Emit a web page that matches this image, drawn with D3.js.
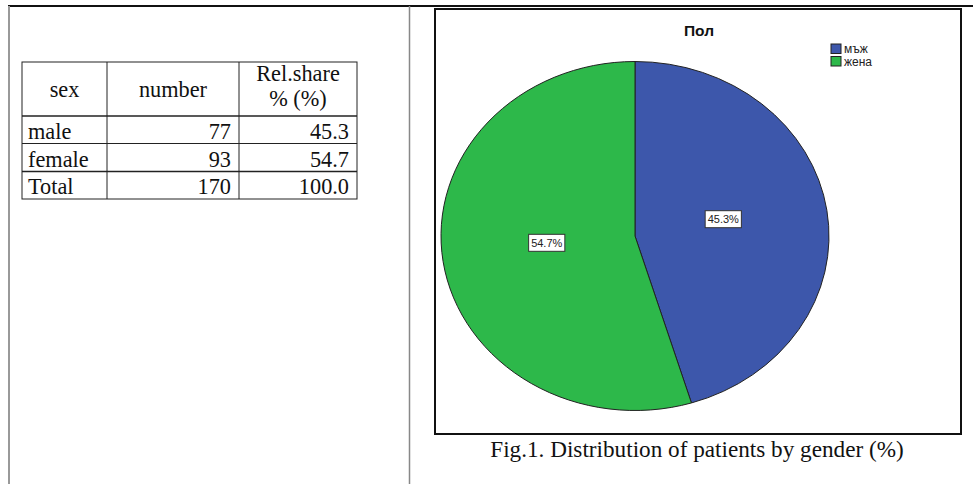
<!DOCTYPE html>
<html>
<head>
<meta charset="utf-8">
<script src="https://cdn.jsdelivr.net/npm/d3@7"></script>
<style>
  html, body { margin: 0; padding: 0; background: #fff; }
  svg { display: block; }
</style>
</head>
<body>
<svg id="page" width="973" height="484"></svg>
<script>
// Table data
const tableHeader = ["sex", "number", "Rel.share|% (%)"];
const sexes = ["male", "female", "Total"];
const counts = [77, 93, 170];
const shares = ["45.3", "54.7", "100.0"];

// Pie data
const chartTitle = "Пол";
const legendLabels = ["мъж", "жена"];
const sliceShares = [45.3, 54.7];
const sliceColors = ["#3d57ab", "#2db84a"];
const caption = "Fig.1. Distribution of patients by gender (%)";

const svg = d3.select("#page");

// Page frame lines
svg.append("line").attr("x1", 8).attr("x2", 973).attr("y1", 6).attr("y2", 6)
  .attr("stroke", "#111").attr("stroke-width", 2);
svg.append("line").attr("x1", 9).attr("x2", 9).attr("y1", 6).attr("y2", 484)
  .attr("stroke", "#999").attr("stroke-width", 2);
svg.append("line").attr("x1", 409.5).attr("x2", 409.5).attr("y1", 6).attr("y2", 484)
  .attr("stroke", "#888").attr("stroke-width", 1.5);

// ---------- Table ----------
const serif = "'Liberation Serif', 'Times New Roman', serif";
const fs = 22.3;
const colEdges = [22, 107, 239, 357];
const rowEdges = [62, 116, 143.5, 171.5, 199];
const tbl = svg.append("g");

tbl.append("rect")
  .attr("x", colEdges[0]).attr("y", rowEdges[0])
  .attr("width", colEdges[3] - colEdges[0]).attr("height", rowEdges[4] - rowEdges[0])
  .attr("fill", "none").attr("stroke", "#222").attr("stroke-width", 1);
colEdges.slice(1, 3).forEach(x => {
  tbl.append("line").attr("x1", x).attr("x2", x).attr("y1", rowEdges[0]).attr("y2", rowEdges[4])
    .attr("stroke", "#222").attr("stroke-width", 1);
});
rowEdges.slice(1, 4).forEach((y, i) => {
  tbl.append("line").attr("x1", colEdges[0]).attr("x2", colEdges[3]).attr("y1", y).attr("y2", y)
    .attr("stroke", "#222").attr("stroke-width", i === 1 ? 1 : 1.6);
});

// Header cells (a "|" splits a header into two lines)
tableHeader.forEach((h, i) => {
  const cx = (colEdges[i] + colEdges[i + 1]) / 2;
  const lines = h.split("|");
  if (lines.length === 1) {
    tbl.append("text").attr("text-anchor", "middle")
      .attr("font-family", serif).attr("font-size", fs).attr("fill", "#111")
      .attr("x", cx).attr("y", 97).text(lines[0]);
  } else {
    lines.forEach((l, j) => {
      tbl.append("text").attr("text-anchor", "middle")
        .attr("font-family", serif).attr("font-size", fs).attr("fill", "#111")
        .attr("x", cx).attr("y", 80.5 + j * 25).text(l);
    });
  }
});

// Body rows
const baselines = [139, 166.5, 194];
sexes.forEach((s, i) => {
  tbl.append("text").attr("x", colEdges[0] + 6).attr("y", baselines[i])
    .attr("font-family", serif).attr("font-size", fs).attr("fill", "#111").text(s);
  tbl.append("text").attr("x", colEdges[2] - 8).attr("y", baselines[i])
    .attr("text-anchor", "end")
    .attr("font-family", serif).attr("font-size", fs).attr("fill", "#111").text(counts[i]);
  tbl.append("text").attr("x", colEdges[3] - 8).attr("y", baselines[i])
    .attr("text-anchor", "end")
    .attr("font-family", serif).attr("font-size", fs).attr("fill", "#111").text(shares[i]);
});

// ---------- Pie chart ----------
const sans = "Arial, 'Liberation Sans', sans-serif";
svg.append("rect").attr("x", 435).attr("y", 9).attr("width", 526).attr("height", 425)
  .attr("fill", "#fff").attr("stroke", "#111").attr("stroke-width", 2);

svg.append("text").attr("x", 699).attr("y", 36).attr("text-anchor", "middle")
  .attr("font-family", sans).attr("font-weight", "bold").attr("font-size", 15.5)
  .attr("fill", "#111").text(chartTitle);

const cx = 635, cy = 236, ry = 174.5, rx = 194;
const sx = rx / ry;

const pie = d3.pie().sort(null).value(d => d)(sliceShares);
const arc = d3.arc().innerRadius(0).outerRadius(ry);
const labelArc = d3.arc().innerRadius(ry * 0.46).outerRadius(ry * 0.46);

// Elliptical pie: circle arcs stretched horizontally
const pieG = svg.append("g")
  .attr("transform", `translate(${cx},${cy}) scale(${sx},1)`);
pieG.selectAll("path").data(pie).join("path")
  .attr("d", arc)
  .attr("fill", (d, i) => sliceColors[i])
  .attr("stroke", "#222").attr("stroke-width", 1)
  .attr("vector-effect", "non-scaling-stroke");

// Value labels in boxes
const fmt = d3.format(".1f");
pie.forEach((d, i) => {
  const [lx, ly] = labelArc.centroid(d);
  const px = cx + lx * sx, py = cy + ly - 5;
  const g = svg.append("g").attr("transform", `translate(${px},${py})`);
  const txt = g.append("text").attr("text-anchor", "middle").attr("y", 4)
    .attr("font-family", sans).attr("font-size", 11).attr("fill", "#222")
    .text(fmt(d.data) + "%");
  const w = txt.node().getComputedTextLength() + 5;
  g.insert("rect", "text").attr("x", -w / 2).attr("y", -8.5).attr("width", w).attr("height", 17)
    .attr("fill", "#fff").attr("stroke", "#333").attr("stroke-width", 1);
});

// Legend
const legend = svg.append("g").attr("transform", "translate(831,44)");
legendLabels.forEach((l, i) => {
  legend.append("rect").attr("x", 0).attr("y", i * 12.5).attr("width", 10).attr("height", 9.5)
    .attr("fill", sliceColors[i]).attr("stroke", "#222").attr("stroke-width", 1);
  legend.append("text").attr("x", 13).attr("y", i * 12.5 + 9)
    .attr("font-family", sans).attr("font-size", 12).attr("fill", "#222").text(l);
});

// Caption
svg.append("text").attr("x", 697).attr("y", 457).attr("text-anchor", "middle")
  .attr("font-family", serif).attr("font-size", 23.2).attr("fill", "#111").text(caption);
</script>
</body>
</html>
